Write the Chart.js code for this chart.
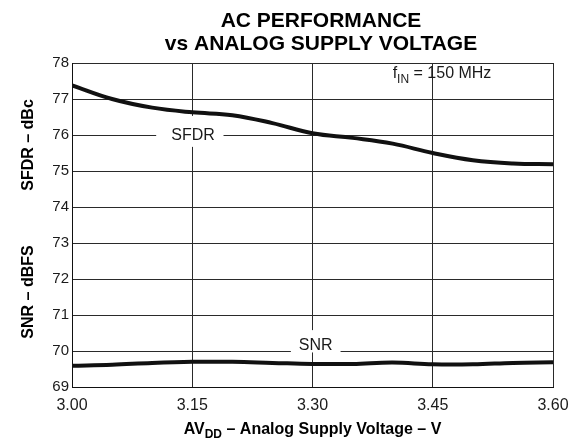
<!DOCTYPE html>
<html>
<head>
<meta charset="utf-8">
<script src="https://cdn.jsdelivr.net/npm/chart.js@4"></script>
<style>
  html, body { margin: 0; padding: 0; background: #fff; }
  #wrap { width: 582px; height: 440px; }
</style>
</head>
<body>
<div id="wrap"><canvas id="c" width="582" height="440"></canvas></div>
<script>
// ---- data ----
const voltages = [3.00, 3.05, 3.10, 3.15, 3.20, 3.25, 3.30, 3.35, 3.40, 3.45, 3.50, 3.55, 3.60];
const sfdr     = [77.38, 77.00, 76.76, 76.63, 76.55, 76.33, 76.05, 75.92, 75.76, 75.50, 75.30, 75.21, 75.19];
const snr      = [69.59, 69.62, 69.67, 69.70, 69.70, 69.67, 69.64, 69.64, 69.68, 69.63, 69.63, 69.67, 69.69];
const xTickValues = [3.00, 3.15, 3.30, 3.45, 3.60];
const yTickValues = [69, 70, 71, 72, 73, 74, 75, 76, 77, 78];
const titleLines = ["AC PERFORMANCE", "vs ANALOG SUPPLY VOLTAGE"];
const ySfdrTitle = "SFDR \u2013 dBc";
const ySnrTitle = "SNR \u2013 dBFS";
const seriesLabels = ["SFDR", "SNR"];

const FONT = '"Liberation Sans", Arial, Helvetica, sans-serif';
const INK = '#1a1a1a';

function toPts(xs, ys) { return xs.map((x, i) => ({ x: x, y: ys[i] })); }

const decor = {
  id: 'decor',
  beforeDatasetsDraw(chart) {
    const ctx = chart.ctx, xs = chart.scales.x, ys = chart.scales.y;
    ctx.save();
    // label boxes (break the grid)
    ctx.fillStyle = '#fff';
    ctx.fillRect(xs.getPixelForValue(3.105), ys.getPixelForValue(76.53),
      xs.getPixelForValue(3.189) - xs.getPixelForValue(3.105),
      ys.getPixelForValue(75.67) - ys.getPixelForValue(76.53));
    ctx.fillRect(xs.getPixelForValue(3.273), ys.getPixelForValue(70.58),
      xs.getPixelForValue(3.335) - xs.getPixelForValue(3.273),
      ys.getPixelForValue(69.96) - ys.getPixelForValue(70.58));
    ctx.fillStyle = INK;
    ctx.font = '16px ' + FONT;
    ctx.textAlign = 'center';
    ctx.textBaseline = 'middle';
    ctx.fillText(seriesLabels[0], xs.getPixelForValue(3.151), ys.getPixelForValue(76.0) + 1);
    ctx.textBaseline = 'alphabetic';
    ctx.fillText(seriesLabels[1], xs.getPixelForValue(3.304), ys.getPixelForValue(70.0) - 1);
    // f_IN = 150 MHz
    ctx.textAlign = 'left';
    let x0 = xs.getPixelForValue(3.4), yb = ys.getPixelForValue(77.58);
    ctx.font = '16px ' + FONT;
    ctx.fillText('f', x0, yb);
    x0 += ctx.measureText('f').width;
    ctx.font = '12px ' + FONT;
    ctx.fillText('IN', x0, yb + 5);
    x0 += ctx.measureText('IN').width;
    ctx.font = '16px ' + FONT;
    ctx.fillText(' = 150 MHz', x0, yb);
    ctx.restore();
  },
  afterDraw(chart) {
    const ctx = chart.ctx, ca = chart.chartArea;
    ctx.save();
    ctx.fillStyle = '#000';
    ctx.textAlign = 'center';
    ctx.textBaseline = 'alphabetic';
    ctx.font = 'bold 21px ' + FONT;
    ctx.fillText(titleLines[0], 321, 27);
    ctx.fillText(titleLines[1], 321, 50);
    // y titles
    ctx.font = 'bold 16px ' + FONT;
    ctx.save();
    ctx.translate(33, 145);
    ctx.rotate(-Math.PI / 2);
    ctx.fillText(ySfdrTitle, 0, 0);
    ctx.restore();
    ctx.save();
    ctx.translate(33, 292);
    ctx.rotate(-Math.PI / 2);
    ctx.fillText(ySnrTitle, 0, 0);
    ctx.restore();
    // x title with subscript
    const parts = [['AV', 'bold 16px ', 0], ['DD', 'bold 12px ', 4], [' \u2013 Analog Supply Voltage \u2013 V', 'bold 16px ', 0]];
    let total = 0;
    parts.forEach(p => { ctx.font = p[1] + FONT; total += ctx.measureText(p[0]).width; });
    let x = (ca.left + ca.right) / 2 - total / 2;
    ctx.textAlign = 'left';
    parts.forEach(p => { ctx.font = p[1] + FONT; ctx.fillText(p[0], x, 434 + p[2]); x += ctx.measureText(p[0]).width; });
    ctx.restore();
  }
};

new Chart(document.getElementById('c'), {
  type: 'line',
  data: {
    datasets: [
      { label: seriesLabels[0], data: toPts(voltages, sfdr), borderColor: '#111', borderWidth: 4, pointRadius: 0, tension: 0.4, fill: false },
      { label: seriesLabels[1], data: toPts(voltages, snr), borderColor: '#111', borderWidth: 4, pointRadius: 0, tension: 0.4, fill: false }
    ]
  },
  options: {
    responsive: false,
    animation: false,
    devicePixelRatio: 1,
    layout: { padding: { left: 0, right: 29, top: 63, bottom: 0 } },
    plugins: { legend: { display: false }, title: { display: false }, tooltip: { enabled: false } },
    scales: {
      x: {
        type: 'linear', min: 3.0, max: 3.6,
        afterBuildTicks: s => { s.ticks = xTickValues.map(v => ({ value: v })); },
        afterFit: s => { s.height = 53; },
        ticks: { callback: v => v.toFixed(2), font: { family: FONT, size: 16 }, color: INK, padding: 9, maxRotation: 0 },
        grid: { color: '#2a2a2a', lineWidth: 1, drawTicks: false },
        border: { color: '#111', width: 1 }
      },
      y: {
        min: 69, max: 78,
        afterBuildTicks: s => { s.ticks = yTickValues.map(v => ({ value: v })); },
        afterFit: s => { s.width = 72; },
        ticks: { font: { family: FONT, size: 15 }, color: INK, padding: 3 },
        grid: { color: '#2a2a2a', lineWidth: 1, drawTicks: false },
        border: { color: '#111', width: 1 }
      }
    }
  },
  plugins: [decor]
});
</script>
</body>
</html>
